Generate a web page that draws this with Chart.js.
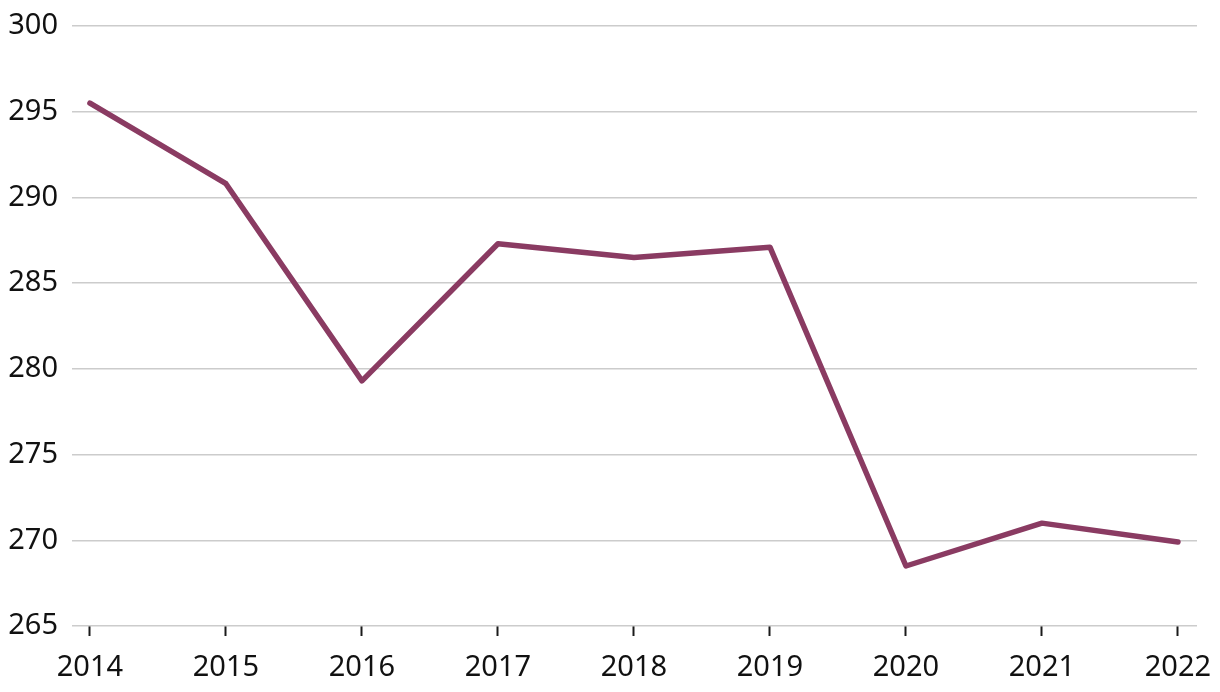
<!DOCTYPE html>
<html>
<head>
<meta charset="utf-8">
<script src="https://cdn.jsdelivr.net/npm/chart.js@4/dist/chart.umd.min.js"></script>
<style>
html,body{margin:0;padding:0;background:#fff;}
#wrap{width:1220px;height:692px;position:relative;}
</style>
</head>
<body>
<div id="wrap"><canvas id="c"></canvas></div>
<script>
const years = [2014, 2015, 2016, 2017, 2018, 2019, 2020, 2021, 2022];
const values = [295.5, 290.8, 279.3, 287.3, 286.5, 287.1, 268.5, 271.0, 269.9];
const yTicks = [265, 270, 275, 280, 285, 290, 295, 300];

const ctx = document.getElementById('c');
new Chart(ctx, {
  type: 'line',
  data: {
    datasets: [{
      data: years.map((y, i) => ({x: y, y: values[i]})),
      borderColor: '#8a3b62',
      borderWidth: 5.5,
      pointRadius: 0,
      borderCapStyle: 'round',
      borderJoinStyle: 'round',
      tension: 0,
      fill: false
    }]
  },
  options: {
    responsive: true,
    maintainAspectRatio: false,
    animation: false,
    layout: {padding: {top: 26, right: 23, bottom: 0, left: 0}},
    plugins: {legend: {display: false}, tooltip: {enabled: false}},
    scales: {
      x: {
        type: 'linear',
        min: 2013.868,
        max: 2022.14,
        afterBuildTicks: s => { s.ticks = years.map(v => ({value: v})); },
        afterFit: s => { s.height = 66; s.paddingLeft = 0; s.paddingRight = 0; },
        grid: {drawOnChartArea: false, drawTicks: true, tickLength: 10, tickColor: '#1a1a1a', tickWidth: 2},
        border: {display: false},
        ticks: {color: '#111111', font: {family: 'Noto Sans', size: 29, lineHeight: 1.2}, padding: 14, maxRotation: 0, autoSkip: false,
          callback: v => String(v)}
      },
      y: {
        min: 265,
        max: 300,
        afterBuildTicks: s => { s.ticks = yTicks.map(v => ({value: v})); },
        afterFit: s => { s.width = 72; s.paddingTop = 0; s.paddingBottom = 0; },
        grid: {color: '#cccccc', lineWidth: 1.5, drawTicks: false},
        border: {display: false},
        ticks: {color: '#111111', font: {family: 'Noto Sans', size: 29, lineHeight: 1.0}, padding: 14}
      }
    }
  }
});
</script>
</body>
</html>
